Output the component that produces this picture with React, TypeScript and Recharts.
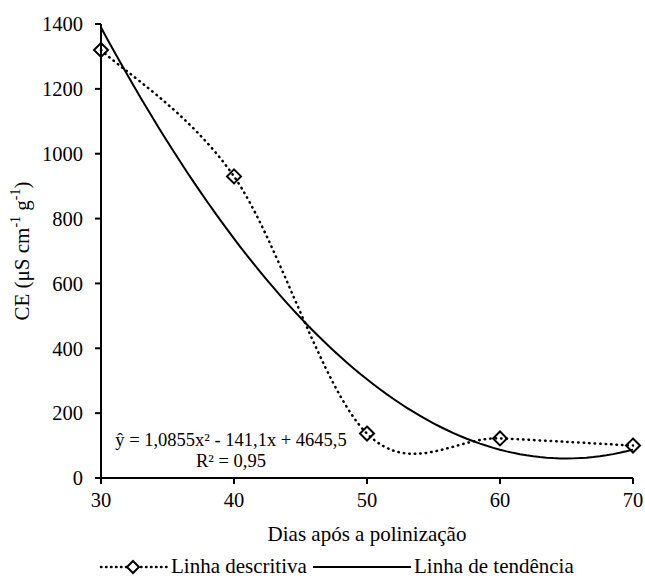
import { LineChart, Line, XAxis, YAxis, Legend, Customized } from "recharts";

// measured electrical conductivity by day after pollination
const days = [30, 40, 50, 60, 70];
const ceValues = [1320, 930, 137, 122, 100];

const xTicks = [30, 40, 50, 60, 70];
const yTicks = [0, 200, 400, 600, 800, 1000, 1200, 1400];

// quadratic fit printed on the chart: y = a x² + b x + c
const fitA = 1.0855;
const fitB = -141.1;
const fitC = 4645.5;
const fitStep = 0.5;

const observed = days.map((d, i) => ({ day: d, ce: ceValues[i] }));

const trend: { day: number; fit: number }[] = [];
for (let d = days[0]; d <= days[days.length - 1]; d += fitStep) {
  trend.push({ day: d, fit: fitA * d * d + fitB * d + fitC });
}

const FONT =
  "Liberation Serif, Tinos, Times New Roman, Times, Nimbus Roman, DejaVu Serif, Noto Serif, serif";

// uniform Catmull-Rom smoothing (same look as a spreadsheet "smoothed line")
const smoothCurve = (context: any) => {
  let pts: [number, number][] = [];
  return {
    areaStart() {},
    areaEnd() {},
    lineStart() {
      pts = [];
    },
    lineEnd() {
      if (!pts.length) return;
      context.moveTo(pts[0][0], pts[0][1]);
      for (let i = 0; i < pts.length - 1; i++) {
        const p0 = pts[Math.max(i - 1, 0)];
        const p1 = pts[i];
        const p2 = pts[i + 1];
        const p3 = pts[Math.min(i + 2, pts.length - 1)];
        context.bezierCurveTo(
          p1[0] + (p2[0] - p0[0]) / 6,
          p1[1] + (p2[1] - p0[1]) / 6,
          p2[0] - (p3[0] - p1[0]) / 6,
          p2[1] - (p3[1] - p1[1]) / 6,
          p2[0],
          p2[1]
        );
      }
    },
    point(x: number, y: number) {
      pts.push([x, y]);
    },
  };
};

const Diamond = ({ cx, cy }: any) => {
  if (cx == null || cy == null) return null;
  const r = 7;
  return (
    <path
      key={`d-${cx}`}
      d={`M${cx},${cy - r}L${cx + r},${cy}L${cx},${cy + r}L${cx - r},${cy}Z`}
      fill="none"
      stroke="#000"
      strokeWidth={2}
      strokeDasharray="none"
    />
  );
};

const yLabel = (props: any) => {
  const vb = props.viewBox;
  const cy = vb.y + vb.height / 2;
  return (
    <text
      x={22}
      y={cy}
      transform={`rotate(-90, 22, ${cy})`}
      textAnchor="middle"
      dominantBaseline="central"
      fontFamily={FONT}
      fontSize={21}
      fill="#000"
    >
      CE (μS cm
      <tspan fontSize={14} dy={-7}>-1</tspan>
      <tspan dy={7}> g</tspan>
      <tspan fontSize={14} dy={-7}>-1</tspan>
      <tspan dy={7}>)</tspan>
    </text>
  );
};

const xLabel = (props: any) => {
  const vb = props.viewBox;
  return (
    <text
      x={vb.x + vb.width / 2}
      y={vb.y + 63}
      textAnchor="middle"
      fontFamily={FONT}
      fontSize={21}
      fill="#000"
    >
      Dias após a polinização
    </text>
  );
};

const Equation = () => (
  <g fontFamily={FONT} fontSize={18.5} fill="#000" textAnchor="middle">
    <text x={231} y={446}>
      ŷ = 1,0855x² - 141,1x + 4645,5
    </text>
    <text x={231} y={467}>
      R² = 0,95
    </text>
  </g>
);

const renderLegend = () => (
  <div
    style={{
      position: "relative",
      width: 645,
      height: 30,
      fontFamily: FONT,
      fontSize: 21,
      color: "#000",
      lineHeight: "30px",
    }}
  >
    <svg
      width={70}
      height={30}
      style={{ position: "absolute", left: 99, top: 0 }}
    >
      <line
        x1={2}
        y1={14}
        x2={68}
        y2={14}
        stroke="#000"
        strokeWidth={2.5}
        strokeDasharray="0.5 4.5"
        strokeLinecap="round"
      />
      <path d="M34,8L40,14L34,20L28,14Z" fill="#fff" stroke="#000" strokeWidth={2} />
    </svg>
    <span style={{ position: "absolute", left: 171, top: -2 }}>Linha descritiva</span>
    <svg
      width={100}
      height={30}
      style={{ position: "absolute", left: 313, top: 0 }}
    >
      <line x1={0} y1={14} x2={98} y2={14} stroke="#000" strokeWidth={2} />
    </svg>
    <span style={{ position: "absolute", left: 414, top: -2 }}>Linha de tendência</span>
  </div>
);

export default function App() {
  return (
    <div style={{ position: "absolute", left: 0, top: 0, background: "#fff" }}>
      <LineChart
        width={645}
        height={583}
        margin={{ top: 24, right: 12, bottom: 0, left: 0 }}
      >
        <XAxis
          dataKey="day"
          type="number"
          domain={[30, 70]}
          ticks={xTicks}
          allowDuplicatedCategory={false}
          height={75}
          stroke="#000"
          strokeWidth={2}
          tickSize={6}
          tickMargin={8}
          tick={{ fill: "#000", fontFamily: FONT, fontSize: 20.5 }}
          label={xLabel}
        />
        <YAxis
          type="number"
          domain={[0, 1400]}
          ticks={yTicks}
          width={101}
          stroke="#000"
          strokeWidth={2}
          tickSize={6}
          tickMargin={12}
          tick={{ fill: "#000", fontFamily: FONT, fontSize: 20.5 }}
          label={yLabel}
        />
        <Line
          data={trend}
          dataKey="fit"
          name="Linha de tendência"
          type="linear"
          stroke="#000"
          strokeWidth={2}
          dot={false}
          activeDot={false}
          isAnimationActive={false}
        />
        <Line
          data={observed}
          dataKey="ce"
          name="Linha descritiva"
          type={smoothCurve as any}
          stroke="#000"
          strokeWidth={2.5}
          strokeDasharray="0.5 5"
          strokeLinecap="round"
          dot={<Diamond />}
          activeDot={false}
          isAnimationActive={false}
        />
        <Customized component={Equation} />
        <Legend
          verticalAlign="bottom"
          content={renderLegend}
          wrapperStyle={{ left: 0, width: 645, height: 30 }}
        />
      </LineChart>
    </div>
  );
}
